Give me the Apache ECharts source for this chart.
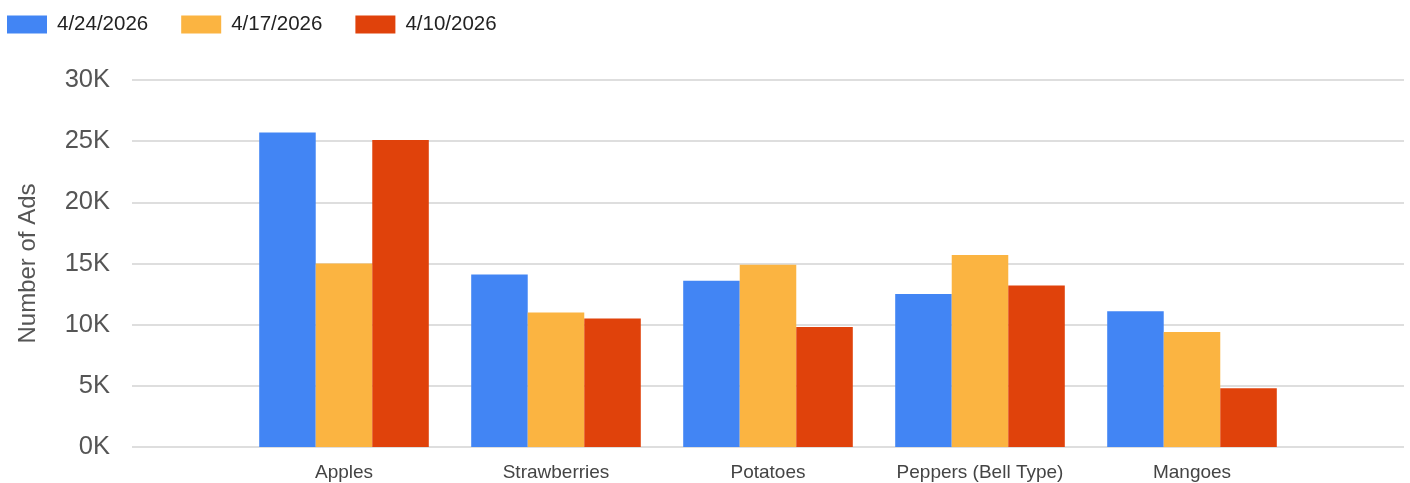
<!DOCTYPE html>
<html>
<head>
<meta charset="utf-8">
<script src="https://cdn.jsdelivr.net/npm/echarts@6/dist/echarts.min.js"></script>
<style>
html,body{margin:0;padding:0;background:#fff;}
#chart{width:1410px;height:483px;}
</style>
</head>
<body>
<div id="chart"></div>
<script>
const categories = ['Apples', 'Strawberries', 'Potatoes', 'Peppers (Bell Type)', 'Mangoes'];
const seriesNames = ['4/24/2026', '4/17/2026', '4/10/2026'];
const week0424 = [25700, 14100, 13600, 12500, 11100];
const week0417 = [15000, 11000, 14900, 15700, 9400];
const week0410 = [25100, 10500, 9800, 13200, 4800];
const colors = ['#4285F4', '#FBB441', '#E0420B'];
const yTicks = { min: 0, max: 30000, interval: 5000 };

const chart = echarts.init(document.getElementById('chart'));
const font = 'Arial, "Liberation Sans", sans-serif';
const dataSets = [week0424, week0417, week0410];

chart.setOption({
  animation: false,
  color: colors,
  textStyle: { fontFamily: font },
  legend: {
    left: 2, top: 9,
    itemWidth: 40, itemHeight: 18, itemGap: 33,
    icon: 'rect',
    textStyle: { fontSize: 20.5, color: '#222', fontFamily: font, padding: [0, 0, 0, 5] },
    data: seriesNames
  },
  grid: [
    { left: 132, right: 6, top: 80, bottom: 36 },
    { left: 238, right: 112, top: 80, bottom: 36 }
  ],
  xAxis: [
    { gridIndex: 0, type: 'value', min: 0, max: 1, show: false },
    {
      gridIndex: 1, type: 'category', data: categories,
      axisLine: { show: false }, axisTick: { show: false },
      axisLabel: { fontSize: 19, color: '#444', margin: 16, fontFamily: font, interval: 0 }
    }
  ],
  yAxis: [
    {
      gridIndex: 0, type: 'value', min: yTicks.min, max: yTicks.max, interval: yTicks.interval,
      name: 'Number of Ads', nameLocation: 'middle', nameGap: 92,
      nameTextStyle: { fontSize: 24, color: '#555', fontFamily: font },
      axisLine: { show: false }, axisTick: { show: false },
      axisLabel: { fontSize: 25.5, color: '#555', margin: 22, fontFamily: font,
        formatter: v => (v / 1000) + 'K' },
      splitLine: { lineStyle: { color: '#dedede', width: 2 } }
    },
    { gridIndex: 1, type: 'value', min: yTicks.min, max: yTicks.max, interval: yTicks.interval, show: false, splitLine: { show: false } }
  ],
  series: seriesNames.map((name, i) => ({
    name: name,
    type: 'bar',
    xAxisIndex: 1, yAxisIndex: 1,
    data: dataSets[i],
    barGap: '0%',
    barCategoryGap: '20%',
    itemStyle: { color: colors[i] }
  }))
});
</script>
</body>
</html>
